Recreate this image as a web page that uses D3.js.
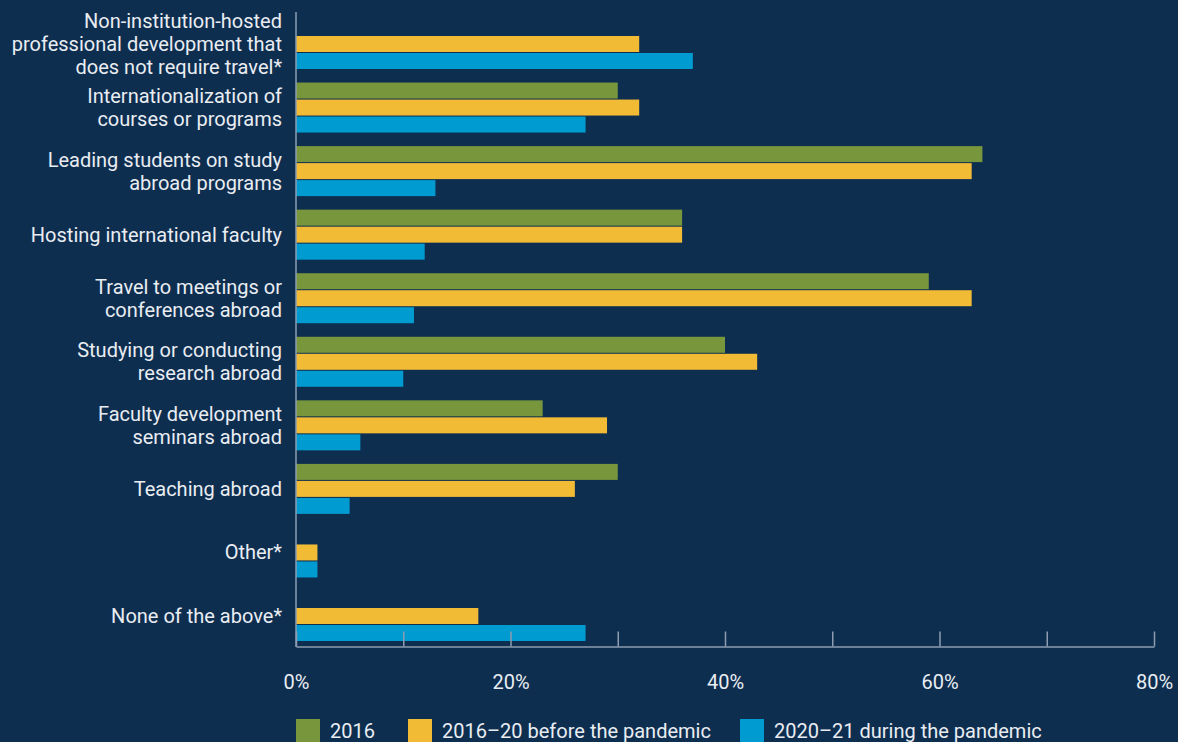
<!DOCTYPE html>
<html>
<head>
<meta charset="utf-8">
<script src="https://cdn.jsdelivr.net/npm/d3@7"></script>
<style>
  html, body { margin: 0; padding: 0; background: #0e2e50; }
  svg { display: block; }
  text { font-family: Roboto, "Noto Sans", sans-serif; fill: #e9edf2; }
</style>
</head>
<body>
<svg id="chart" width="1178" height="742"></svg>
<script>
// Activity categories, top to bottom (each label split into display lines)
const categories = [
  ["Non-institution-hosted", "professional development that", "does not require travel*"],
  ["Internationalization of", "courses or programs"],
  ["Leading students on study", "abroad programs"],
  ["Hosting international faculty"],
  ["Travel to meetings or", "conferences abroad"],
  ["Studying or conducting", "research abroad"],
  ["Faculty development", "seminars abroad"],
  ["Teaching abroad"],
  ["Other*"],
  ["None of the above*"]
];

const seriesNames = ["2016", "2016–20 before the pandemic", "2020–21 during the pandemic"];
const seriesColors = ["#78963c", "#f2bb35", "#009bd0"];

// Percent of respondents; null where the item was not asked
const values2016     = [null, 30, 64, 36, 59, 40, 23, 30, null, null];
const valuesBefore   = [32,   32, 63, 36, 63, 43, 29, 26, 2,    17];
const valuesPandemic = [37,   27, 13, 12, 11, 10,  6,  5, 2,    27];

const xTicks = [0, 10, 20, 30, 40, 50, 60, 70, 80];
const xTickLabels = [0, 20, 40, 60, 80];

const seriesValues = [values2016, valuesBefore, valuesPandemic];
const keys = categories.map(c => c.join(" "));

const svg = d3.select("#chart");
const axisColor = "#8d9cb0";
const fontSize = 20;

const x = d3.scaleLinear().domain([0, 80]).range([296, 1154]);
const y = d3.scaleBand().domain(keys).range([12, 648]).paddingInner(0.2132).paddingOuter(0.11);
const ySub = d3.scaleBand().domain(seriesNames).range([0, y.bandwidth()]).paddingInner(0.0588);

// Bars
const rows = svg.append("g").selectAll("g")
  .data(keys)
  .join("g")
  .attr("transform", d => `translate(0,${y(d)})`);

rows.selectAll("rect")
  .data((d, i) => seriesNames.map((s, j) => ({ s, j, v: seriesValues[j][i] })).filter(e => e.v != null))
  .join("rect")
  .attr("x", x(0))
  .attr("y", e => ySub(e.s))
  .attr("width", e => x(e.v) - x(0))
  .attr("height", ySub.bandwidth())
  .attr("fill", e => seriesColors[e.j]);

// Vertical axis line
svg.append("line")
  .attr("x1", x(0)).attr("x2", x(0))
  .attr("y1", 12).attr("y2", 647)
  .attr("stroke", axisColor).attr("stroke-width", 1.5);

// Category labels
const lineH = 23;
svg.append("g").selectAll("text")
  .data(categories)
  .join("text")
  .attr("text-anchor", "end")
  .attr("font-size", fontSize)
  .each(function (lines, i) {
    const cy = y(keys[i]) + y.bandwidth() / 2;
    const t = d3.select(this);
    lines.forEach((ln, k) => {
      t.append("tspan")
        .attr("x", 282)
        .attr("y", cy + (k - (lines.length - 1) / 2) * lineH)
        .attr("dy", "0.35em")
        .text(ln);
    });
  });

// Bottom axis: baseline with upward ticks
const axisY = 646.5;
const xAxis = d3.axisBottom(x)
  .tickValues(xTicks)
  .tickSize(-15)
  .tickSizeOuter(0)
  .tickFormat(d => xTickLabels.includes(d) ? d + "%" : "");

const gx = svg.append("g")
  .attr("transform", `translate(0,${axisY})`)
  .call(xAxis);
gx.select(".domain").attr("stroke", axisColor).attr("stroke-width", 1.5);
gx.selectAll(".tick line").attr("stroke", axisColor).attr("stroke-width", 1.5);
gx.selectAll(".tick text")
  .attr("y", 35)
  .attr("dy", "0.35em")
  .attr("font-size", fontSize)
  .attr("font-family", "Roboto, 'Noto Sans', sans-serif")
  .attr("fill", "#e9edf2");

// Legend
const legendX = [296, 408, 740];
const legend = svg.append("g").selectAll("g")
  .data(seriesNames)
  .join("g")
  .attr("transform", (d, i) => `translate(${legendX[i]},719)`);
legend.append("rect")
  .attr("width", 24).attr("height", 24)
  .attr("fill", (d, i) => seriesColors[i]);
legend.append("text")
  .attr("x", 34).attr("y", 12)
  .attr("dy", "0.35em")
  .attr("font-size", fontSize)
  .text(d => d);
</script>
</body>
</html>
